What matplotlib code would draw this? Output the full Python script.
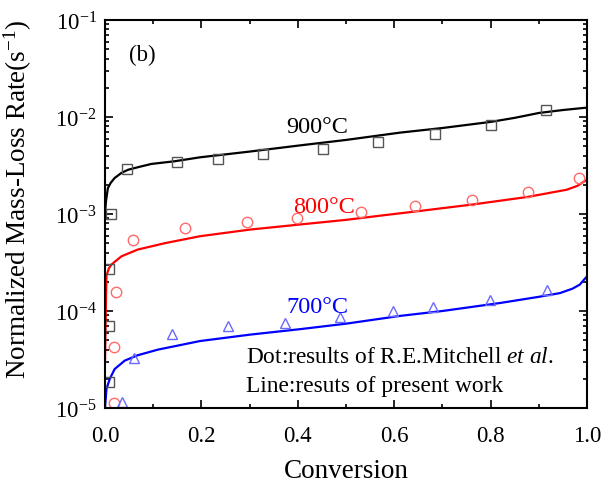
import matplotlib
matplotlib.use("Agg")
import matplotlib.pyplot as plt
from matplotlib.ticker import MultipleLocator, LogLocator, LogFormatterMathtext, NullFormatter

plt.rcParams['font.family'] = ['Liberation Serif', 'DejaVu Serif']
plt.rcParams['mathtext.fontset'] = 'custom'
plt.rcParams['mathtext.rm'] = 'Liberation Serif'
plt.rcParams['mathtext.it'] = 'Liberation Serif:italic'

# measured points (R.E.Mitchell et al.)
sq_x = [0.008, 0.008, 0.008, 0.012, 0.045, 0.149, 0.235, 0.327, 0.453, 0.567, 0.685, 0.801, 0.915]
sq_y = [1.85e-5, 6.95e-5, 2.71e-4, 1.0e-3, 2.93e-3, 3.41e-3, 3.69e-3, 4.16e-3, 4.68e-3, 5.52e-3,
        6.73e-3, 8.2e-3, 1.17e-2]
ci_x = [0.019, 0.019, 0.022, 0.059, 0.167, 0.295, 0.398, 0.531, 0.643, 0.761, 0.877, 0.984]
ci_y = [1.13e-5, 4.25e-5, 1.56e-4, 5.35e-4, 7.18e-4, 8.25e-4, 9.1e-4, 1.04e-3, 1.2e-3, 1.39e-3,
        1.67e-3, 2.33e-3]
tr_x = [0.036, 0.06, 0.14, 0.255, 0.373, 0.488, 0.597, 0.681, 0.799, 0.916]
tr_y = [1.16e-5, 3.28e-5, 5.8e-5, 6.95e-5, 7.52e-5, 8.6e-5, 1.0e-4, 1.09e-4, 1.31e-4, 1.63e-4]

# model curves (present work)
l900_x = [0.0, 0.002, 0.006, 0.012, 0.02, 0.034, 0.048, 0.07, 0.096, 0.145, 0.197, 0.3, 0.405,
          0.5, 0.612, 0.7, 0.8, 0.85, 0.9, 0.95, 1.0]
l900_y = [1.0e-3, 1.35e-3, 1.85e-3, 2.1e-3, 2.35e-3, 2.65e-3, 2.86e-3, 3.05e-3, 3.28e-3, 3.5e-3,
          3.84e-3, 4.4e-3, 5.1e-3, 5.8e-3, 6.9e-3, 7.7e-3, 8.9e-3, 9.8e-3, 1.1e-2, 1.18e-2, 1.25e-2]
l800_x = [0.0, 0.001, 0.002, 0.003, 0.008, 0.013, 0.034, 0.068, 0.124, 0.197, 0.3, 0.405, 0.5,
          0.57, 0.643, 0.761, 0.877, 0.958, 0.98, 1.0]
l800_y = [3.0e-5, 6e-5, 1.3e-4, 2.3e-4, 2.75e-4, 3.0e-4, 3.66e-4, 4.3e-4, 5.0e-4, 5.9e-4, 6.9e-4,
          7.8e-4, 8.7e-4, 9.6e-4, 1.06e-3, 1.25e-3, 1.5e-3, 1.78e-3, 1.95e-3, 2.26e-3]
l700_x = [0.0, 0.003, 0.01, 0.02, 0.041, 0.068, 0.11, 0.151, 0.197, 0.3, 0.405, 0.5, 0.612, 0.7,
          0.82, 0.9, 0.944, 0.97, 0.985, 1.0]
l700_y = [1.0e-5, 1.57e-5, 2.0e-5, 2.52e-5, 3.08e-5, 3.5e-5, 4.0e-5, 4.4e-5, 4.9e-5, 5.7e-5, 6.5e-5,
          7.4e-5, 8.9e-5, 1.0e-4, 1.21e-4, 1.4e-4, 1.53e-4, 1.7e-4, 1.87e-4, 2.28e-4]

fig = plt.figure(figsize=(6.01, 4.85), dpi=100)
ax = fig.add_axes([0.1747, 0.1567, 0.802, 0.80])

ax.plot(l900_x, l900_y, color='black', lw=1.6)
ax.plot(l800_x, l800_y, color='#ff0000', lw=1.6)
ax.plot(l700_x, l700_y, color='#0000ff', lw=1.6)

ax.plot(sq_x, sq_y, 's', mfc='none', mec='#555555', ms=7, mew=1.0)
ax.plot(ci_x, ci_y, 'o', mfc='none', mec='#ff6a6a', ms=7.5, mew=1.0)
ax.plot(tr_x, tr_y, '^', mfc='none', mec='#6a6aff', ms=7.5, mew=1.0)

ax.set_yscale('log')
ax.set_xlim(0, 1.0)
ax.set_ylim(1e-5, 1e-1)

ax.xaxis.set_major_locator(MultipleLocator(0.2))
ax.xaxis.set_minor_locator(MultipleLocator(0.1))
ax.yaxis.set_major_locator(LogLocator(base=10, numticks=10))
ax.yaxis.set_minor_locator(LogLocator(base=10, subs=range(2, 10), numticks=10))
ax.yaxis.set_major_formatter(LogFormatterMathtext())
ax.yaxis.set_minor_formatter(NullFormatter())
ax.xaxis.set_major_formatter(matplotlib.ticker.FormatStrFormatter('%.1f'))

ax.tick_params(which='both', direction='in', top=True, right=True, labelsize=16.5, width=1.2)
ax.tick_params(axis='x', which='major', pad=12)
ax.tick_params(axis='y', which='major', pad=6)
ax.tick_params(which='major', length=6)
ax.tick_params(which='minor', length=3)
for s in ax.spines.values():
    s.set_linewidth(1.5)

ax.set_xlabel('Conversion', fontsize=19.5)
ax.set_ylabel('Normalized Mass-Loss Rate(s$^{-1}$)', fontsize=19.5)
ax.xaxis.set_label_coords(0.5, -0.13)
ax.yaxis.set_label_coords(-0.147, 0.54)

ax.text(0.05, 0.91, '(b)', transform=ax.transAxes, fontsize=16.5, va='center')
ax.text(0.44, 7.9e-3, '900°C', fontsize=17.5, ha='center', va='center', color='black')
ax.text(0.455, 1.2e-3, '800°C', fontsize=17.5, ha='center', va='center', color='#ff0000')
ax.text(0.44, 1.12e-4, '700°C', fontsize=17.5, ha='center', va='center', color='#0000ff')
ax.text(0.293, 3.4e-5, 'Dot:results of R.E.Mitchell $et$ $al$.', fontsize=16.8, va='center')
ax.text(0.293, 1.7e-5, 'Line:resuts of present work', fontsize=16.8, va='center')

fig.savefig('out.png', dpi=100)
